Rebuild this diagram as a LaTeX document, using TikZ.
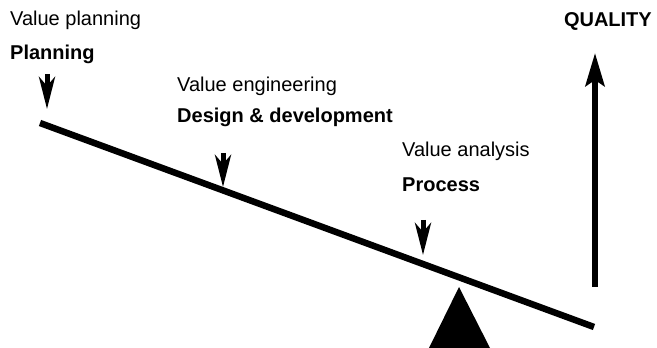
\documentclass[tikz,border=0pt]{standalone}
\usepackage{fontspec}
\setmainfont{Liberation Sans}
\usetikzlibrary{arrows.meta}
\tikzset{
  lbl/.style={anchor=base west, inner sep=0pt, font=\fontsize{20}{24}\selectfont},
  blbl/.style={lbl, font=\fontsize{20}{24}\selectfont\bfseries},
  beam/.style={line width=6.5pt, line cap=butt},
  smallarrow/.style={line width=5pt, -{Stealth[length=32pt,width=16pt,inset=9pt]}},
  bigarrow/.style={line width=6pt, -{Stealth[length=33pt,width=19pt,inset=6pt]}}
}
\begin{document}
\begin{tikzpicture}[x=1pt,y=1pt]
\useasboundingbox (0,0) rectangle (657,348);
% texts
\node[lbl]  (vp) at (10,322) {Value planning};
\node[blbl] (pl) at (10,288) {Planning};
\node[lbl]  (ve) at (177,256) {Value engineering};
\node[blbl] (dd) at (177,225) {Design \& development};
\node[lbl]  (va) at (402,191) {Value analysis};
\node[blbl] (pr) at (402,156) {Process};
\node[blbl, anchor=base east] (q) at (652,321) {QUALITY};
% beam
\coordinate (b1) at (40,225);
\coordinate (b2) at (594,21);
\draw[beam] (b1) -- (b2);
% fulcrum
\coordinate (tapex) at (459,61);
\coordinate (tl) at (429,0);
\coordinate (tr) at (490,0);
\fill (tl) -- (tapex) -- (tr) -- cycle;
% small arrows
\coordinate (a1s) at (47,274); \coordinate (a1e) at (47,239);
\coordinate (a2s) at (223,195); \coordinate (a2e) at (223,161);
\coordinate (a3s) at (423,128); \coordinate (a3e) at (423,93);
\draw[smallarrow] (a1s) -- (a1e);
\draw[smallarrow] (a2s) -- (a2e);
\draw[smallarrow] (a3s) -- (a3e);
% quality arrow
\coordinate (qs) at (595,61);
\coordinate (qe) at (595,295);
\draw[bigarrow] (qs) -- (qe);
\end{tikzpicture}
\end{document}
